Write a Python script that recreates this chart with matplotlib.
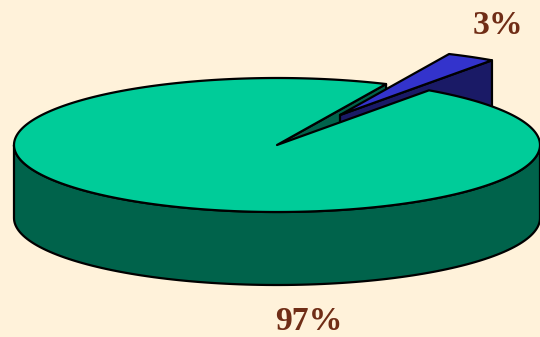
import numpy as np
import matplotlib
matplotlib.use('Agg')
import matplotlib.pyplot as plt
from matplotlib.patches import Polygon

# pie shares
labels = ['97%', '3%']
shares = [97, 3]

# geometry of the tilted disc
cx, cy = 277, 145
rx, ry = 263, 67
depth = 73
explode = (63, -30)
slice_start = 54.7

bg = '#FFF2DA'
green_top, green_side = '#00CC99', '#00634B'
blue_top, blue_side = '#3333CC', '#1A1A66'
text_col = '#702D16'
edge = dict(edgecolor='black', linewidth=1.6, joinstyle='round')


def arc(a0, a1, dx=0, dy=0, n=120):
    t = np.radians(np.linspace(a0, a1, n))
    return np.column_stack([cx + dx + rx*np.cos(t), cy + dy - ry*np.sin(t)])


def wall(points):
    # vertical face hanging below a run of top-surface points
    low = points[::-1] + [0, depth]
    return np.vstack([points, low])


fig = plt.figure(figsize=(5.4, 3.37), dpi=100, facecolor=bg)
ax = fig.add_axes([0, 0, 1, 1])
ax.set_xlim(0, 540)
ax.set_ylim(337, 0)
ax.axis('off')

slice_end = slice_start + shares[1]/sum(shares)*360
centre = np.array([[cx, cy]])
bx, by = cx + explode[0], cy + explode[1]
bapex = np.array([[bx, by]])

# cut face of the big slice seen through the gap
p = arc(slice_end, slice_end, n=1)
ax.add_patch(Polygon(wall(np.vstack([centre, p])), facecolor=green_side, **edge))

# rim of the big slice, front half only
ax.add_patch(Polygon(wall(arc(180, 360)), facecolor=green_side, **edge))

# small slice, pulled out of the disc
q = arc(slice_start, slice_start, explode[0], explode[1], n=1)
ax.add_patch(Polygon(wall(np.vstack([bapex, q])), facecolor=blue_side, **edge))
ax.add_patch(Polygon(np.vstack([bapex, arc(slice_start, slice_end, explode[0], explode[1], n=20)]),
                     facecolor=blue_top, **edge))

# top of the big slice goes on last so it hides the lower part of the faces
ax.add_patch(Polygon(np.vstack([centre, arc(slice_end, slice_start + 360, n=400)]),
                     facecolor=green_top, **edge))

font = dict(family='Liberation Serif', fontweight='bold', fontsize=24.3, color=text_col,
            ha='center', va='center')
ax.text(308.5, 321.5, labels[0], **font)
ax.text(497.5, 25, labels[1], **font)

fig.savefig('out.png', dpi=100, facecolor=bg)
